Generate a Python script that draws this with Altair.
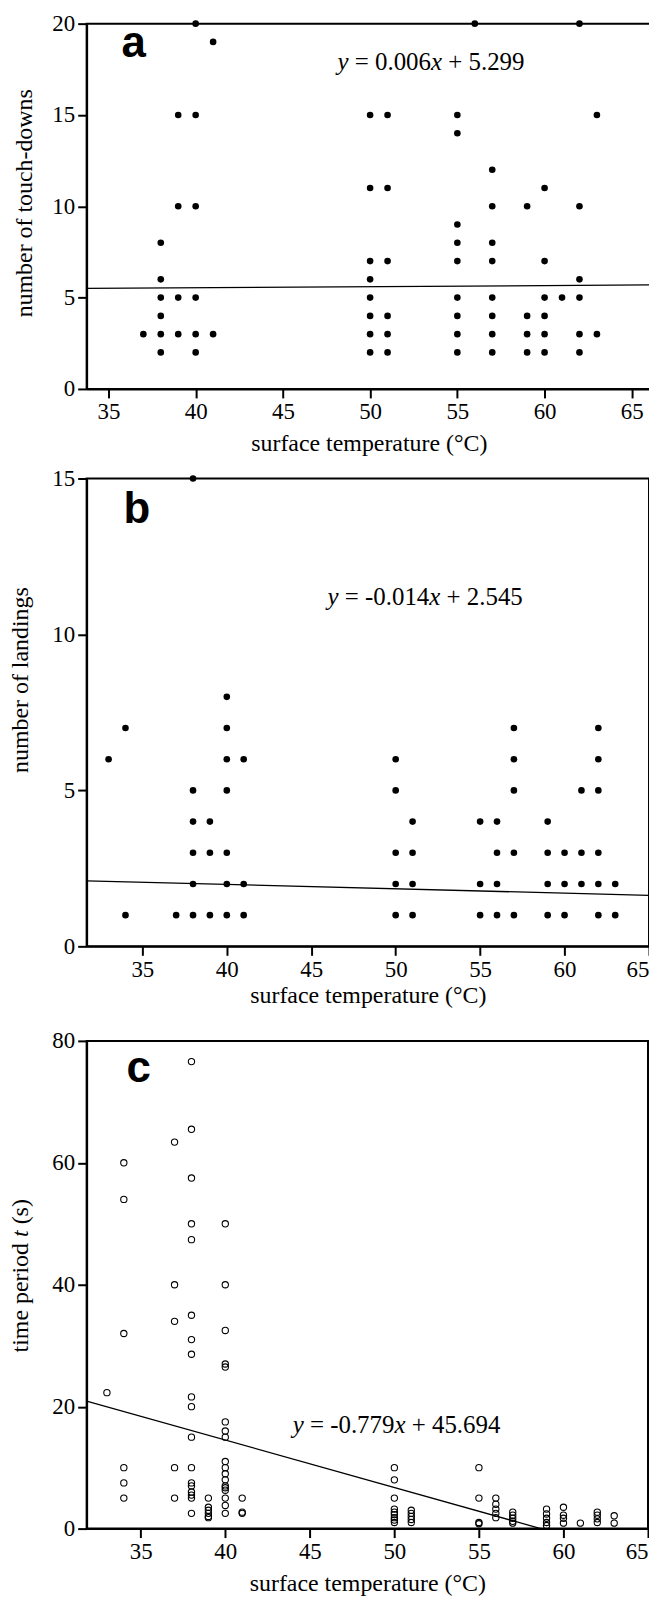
import altair as alt
import pandas as pd

# ---------------- data ----------------
# panel a: number of touch-downs vs surface temperature
touch_temp = [37,
              38, 38, 38, 38, 38, 38,
              39, 39, 39, 39,
              40, 40, 40, 40, 40, 40,
              41, 41,
              50, 50, 50, 50, 50, 50, 50, 50,
              51, 51, 51, 51, 51, 51,
              55, 55, 55, 55, 55, 55, 55, 55, 55,
              56,
              57, 57, 57, 57, 57, 57, 57, 57,
              59, 59, 59, 59,
              60, 60, 60, 60, 60, 60,
              61,
              62, 62, 62, 62, 62, 62,
              63, 63]
touch_count = [3,
               8, 6, 5, 4, 3, 2,
               15, 10, 5, 3,
               20, 15, 10, 5, 3, 2,
               19, 3,
               15, 11, 7, 6, 5, 4, 3, 2,
               15, 11, 7, 4, 3, 2,
               15, 14, 9, 8, 7, 5, 4, 3, 2,
               20,
               12, 10, 8, 7, 5, 4, 3, 2,
               10, 4, 3, 2,
               11, 7, 5, 4, 3, 2,
               5,
               20, 10, 6, 5, 3, 2,
               15, 3]

# panel b: number of landings vs surface temperature
landing_temp = [33,
                34, 34,
                37,
                38, 38, 38, 38, 38, 38,
                39, 39, 39,
                40, 40, 40, 40, 40, 40, 40,
                41, 41, 41,
                50, 50, 50, 50, 50,
                51, 51, 51, 51,
                55, 55, 55,
                56, 56, 56, 56,
                57, 57, 57, 57, 57,
                59, 59, 59, 59,
                60, 60, 60,
                61, 61, 61,
                62, 62, 62, 62, 62, 62,
                63, 63]
landing_count = [6,
                 7, 1,
                 1,
                 15, 5, 4, 3, 2, 1,
                 4, 3, 1,
                 8, 7, 6, 5, 3, 2, 1,
                 6, 2, 1,
                 6, 5, 3, 2, 1,
                 4, 3, 2, 1,
                 4, 2, 1,
                 4, 3, 2, 1,
                 7, 6, 5, 3, 1,
                 4, 3, 2, 1,
                 3, 2, 1,
                 5, 3, 2,
                 7, 6, 5, 3, 2, 1,
                 2, 1]

# panel c: time period t (s) vs surface temperature
period_temp = [33,
               34, 34, 34, 34, 34, 34,
               37, 37, 37, 37, 37,
               38, 38, 38, 38, 38, 38, 38, 38, 38, 38, 38, 38, 38, 38, 38, 38, 38, 38,
               39, 39, 39, 39, 39, 39,
               40, 40, 40, 40, 40, 40, 40, 40, 40, 40, 40, 40, 40, 40, 40, 40, 40, 40,
               41, 41, 41,
               50, 50, 50, 50, 50, 50, 50, 50, 50,
               51, 51, 51, 51, 51,
               55, 55, 55, 55,
               56, 56, 56, 56, 56,
               57, 57, 57, 57, 57,
               59, 59, 59, 59, 59,
               60, 60, 60, 60,
               61,
               62, 62, 62, 62,
               63, 63]
period_sec = [22.3,
              60, 54, 32, 10, 7.5, 5,
              63.4, 40, 34, 10, 5,
              76.6, 65.5, 57.5, 50, 47.4, 35, 31, 28.6, 21.6, 20, 15, 10, 7.5, 7, 6, 5.5, 5, 2.5,
              5, 3.5, 3, 2.5, 2, 1.8,
              50, 40, 32.5, 27, 26.5, 17.5, 16, 15, 11, 10, 9, 8, 7, 6.7, 6.3, 5, 3.8, 2.5,
              5, 2.7, 2.5,
              10, 8, 5, 3.2, 2.7, 2.3, 1.8, 1.4, 1.0,
              3, 2.5, 2, 1.5, 1.0,
              10, 5, 1.0, 0.8,
              5, 4, 3.2, 2.5, 1.8,
              2.7, 2.2, 1.7, 1.2, 0.9,
              3.2, 2.4, 1.7, 1.0, 0.5,
              3.5, 2.2, 1.7, 0.9,
              0.9,
              2.7, 2.2, 1.6, 1.0,
              2.1, 0.9]

# regression equations printed on the panels
fit_slope = [0.006, -0.014, -0.779]
fit_intercept = [5.299, 2.545, 45.694]
eq_a = [("y", True), (" = 0.006", False), ("x", True), (" + 5.299", False)]
eq_b = [("y", True), (" = -0.014", False), ("x", True), (" + 2.545", False)]
eq_c = [("y", True), (" = -0.779", False), ("x", True), (" + 45.694", False)]
ytitle_c = [("time period", False), (" t", True), (" (s)", False)]

x_ticks = [35, 40, 45, 50, 55, 60, 65]
y_ticks_a = [0, 5, 10, 15, 20]
y_ticks_b = [0, 5, 10, 15]
y_ticks_c = [0, 20, 40, 60, 80]
x_title = "surface temperature (\u00b0C)"

assert len(touch_temp) == len(touch_count)
assert len(landing_temp) == len(landing_count)
assert len(period_temp) == len(period_sec)

# ---------------- styling helpers ----------------
SERIF = "Liberation Serif"
SANS = "Liberation Sans"
EM = {"0": 500, "1": 500, "2": 500, "3": 500, "4": 500, "5": 500, "6": 500,
      "7": 500, "8": 500, "9": 500, ".": 250, " ": 250, "=": 564, "+": 564,
      "-": 333, "y": 444, "x": 444, "t": 278, "(": 333, ")": 333, "s": 389,
      "i": 278, "m": 778, "e": 444, "p": 500, "r": 333, "o": 500, "d": 500}


def tw(s, size):
    return sum(EM.get(ch, 500) for ch in s) / 1000.0 * size


def pieces(parts, px, py, size, angle=0, baseline="alphabetic"):
    layers = []
    off = 0.0
    for txt, ital in parts:
        lead = len(txt) - len(txt.lstrip(" "))
        off += lead * 0.25 * size
        core = txt.strip(" ")
        kw = dict(align="left", baseline=baseline, font=SERIF, fontSize=size,
                  fontStyle="italic" if ital else "normal", dx=off, color="black")
        if angle:
            kw["angle"] = angle
        layers.append(
            alt.Chart(pd.DataFrame({"label": [core]}))
            .mark_text(**kw)
            .encode(x=alt.value(px), y=alt.value(py), text="label:N")
        )
        off += tw(core, size)
    return layers


def letter(ch, px, py):
    return (alt.Chart(pd.DataFrame({"label": [ch]}))
            .mark_text(align="left", baseline="alphabetic", font=SANS,
                       fontSize=44, fontWeight="bold", color="black")
            .encode(x=alt.value(px), y=alt.value(py), text="label:N"))


def spacer(py):
    # invisible mark that reserves a little room above a panel
    return (alt.Chart(pd.DataFrame({"label": ["."]}))
            .mark_text(baseline="bottom", fontSize=2, opacity=0)
            .encode(x=alt.value(0), y=alt.value(py), text="label:N"))


def panel(temp, vals, filled, xdom, ydom, yticks, w, h, k,
          eq, eq_xy, let, let_xy, ytitle, ytitle_x, ytitle_y, xpad, top_room=None):
    pts = pd.DataFrame({"temp": temp, "val": vals})
    m, b = fit_slope[k], fit_intercept[k]
    x_end = xdom[1]
    if m < 0 and -b / m < xdom[1]:
        x_end = -b / m
    fit = pd.DataFrame({"temp": [xdom[0], x_end]})
    fit["val"] = m * fit["temp"] + b

    if ytitle is None:
        yaxis = alt.Axis(values=yticks, title=None)
    else:
        yaxis = alt.Axis(values=yticks, title=ytitle, titleX=ytitle_x,
                         titleY=ytitle_y, titleAngle=270, titleAlign="center",
                         titleBaseline="middle")
    x_enc = alt.X("temp:Q", scale=alt.Scale(domain=xdom, nice=False, zero=False),
                  axis=alt.Axis(values=x_ticks, title=x_title, titlePadding=xpad))
    y_enc = alt.Y("val:Q", scale=alt.Scale(domain=ydom, nice=False, zero=False),
                  axis=yaxis)

    line = alt.Chart(fit).mark_line(color="black", strokeWidth=1.3).encode(x=x_enc, y=y_enc)
    if filled:
        dots = alt.Chart(pts).mark_circle(size=44, color="black", opacity=1).encode(x=x_enc, y=y_enc)
    else:
        dots = alt.Chart(pts).mark_point(shape="circle", filled=False, size=40,
                                         strokeWidth=1.1, color="black", opacity=1).encode(x=x_enc, y=y_enc)
    layers = [line, dots] + pieces(eq, eq_xy[0], eq_xy[1], 25) + [letter(let, let_xy[0], let_xy[1])]
    if ytitle is None:
        total = sum(tw(t.strip(" "), 24) for t, _ in ytitle_c) + 2 * 0.25 * 24
        layers += pieces(ytitle_c, ytitle_x, ytitle_y + total / 2, 24, angle=270, baseline="middle")
    if top_room is not None:
        layers.append(spacer(top_room))
    return alt.layer(*layers).properties(width=w, height=h)


pa = panel(touch_temp, touch_count, True, [33.75, 66.1], [0, 20], y_ticks_a,
           567, 367, 0, eq_a, (252, 47), "a", (35, 34),
           "number of touch-downs", -62, 180, 8)
pb = panel(landing_temp, landing_count, True, [31.7, 65], [0, 15], y_ticks_b,
           565, 470, 1, eq_b, (242, 127), "b", (37, 45),
           "number of landings", -66, 202, 2)
pc = panel(period_temp, period_sec, False, [31.8, 65], [0, 80], y_ticks_c,
           564, 490, 2, eq_c, (207, 394), "c", (40, 41),
           None, -66, 236, 8, top_room=-20)

chart = (
    alt.vconcat(pa, pb, pc, spacing=10)
    .properties(padding={"top": 0, "left": 0, "right": -6, "bottom": -2})
    .configure_view(stroke="black", strokeWidth=2)
    .configure_axis(
        grid=False, domainColor="black", domainWidth=2, tickColor="black",
        tickWidth=2, tickSize=9, labelFont=SERIF, labelFontSize=23,
        labelColor="black", labelPadding=3, titleFont=SERIF, titleFontSize=24,
        titleFontWeight="normal", titleColor="black",
    )
)

chart.save("out.html", embed_options={"renderer": "svg", "actions": False})
